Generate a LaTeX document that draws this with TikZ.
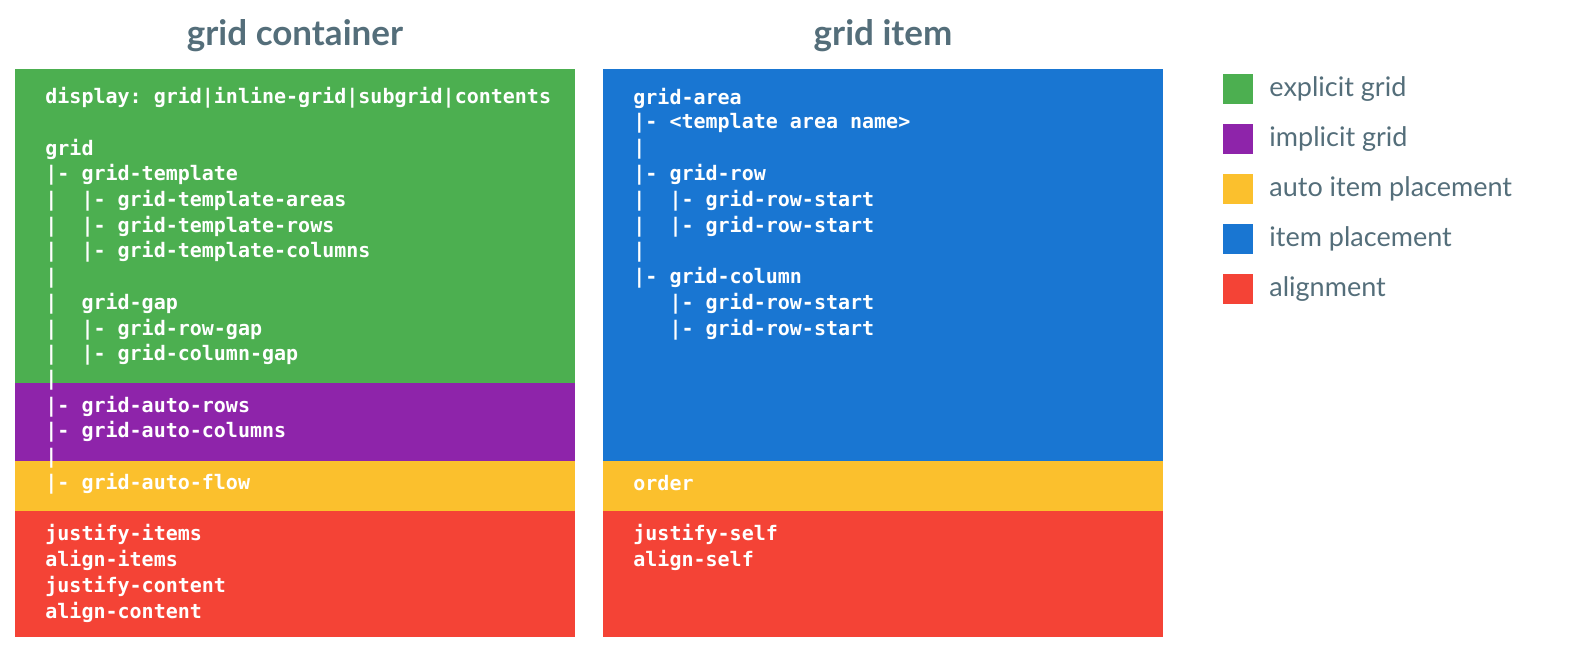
\documentclass[tikz,border=0pt]{standalone}
\usepackage{fontspec}
\setmainfont{Lato}
\setmonofont{DejaVu Sans Mono}
\definecolor{cgreen}{HTML}{4CAF50}
\definecolor{cpurple}{HTML}{8E24AA}
\definecolor{cyellow}{HTML}{FBC02D}
\definecolor{cblue}{HTML}{1976D2}
\definecolor{cred}{HTML}{F44336}
\definecolor{ctitle}{HTML}{546E7A}
\tikzset{
  band/.style={fill=#1, draw=none},
  code/.style={anchor=west, inner sep=0pt, text=white, font=\ttfamily\bfseries\fontsize{10}{12}\selectfont},
  ttl/.style={text=ctitle, font=\bfseries\fontsize{17.5}{20}\selectfont},
  sw/.style={fill=#1, draw=none, minimum size=15pt, inner sep=0pt, anchor=north west},
  lg/.style={anchor=west, text=ctitle, font=\fontsize{13.5}{16}\selectfont, inner sep=0pt},
}
\begin{document}
\begin{tikzpicture}[x=0.5pt,y=-0.5pt]
\useasboundingbox (0,0) rectangle (1578,657);
% left panel
\fill[band=cgreen] (15,69) rectangle (575,383);
\fill[band=cpurple] (15,383) rectangle (575,461);
\fill[band=cyellow] (15,461) rectangle (575,511);
\fill[band=cred] (15,511) rectangle (575,637);
% right panel
\fill[band=cblue] (603,69) rectangle (1163,461);
\fill[band=cyellow] (603,461) rectangle (1163,511);
\fill[band=cred] (603,511) rectangle (1163,637);
\node[ttl] (t1) at (295,36) {grid container};
\node[ttl] (t2) at (883,36) {grid item};
\foreach \i/\t in {
 0/{display: grid|inline-grid|subgrid|contents},
 2/{grid},
 3/{|- grid-template},
 4/{|~~|- grid-template-areas},
 5/{|~~|- grid-template-rows},
 6/{|~~|- grid-template-columns},
 7/{|},
 8/{|~~grid-gap},
 9/{|~~|- grid-row-gap},
 10/{|~~|- grid-column-gap},
 11/{|},
 12/{|- grid-auto-rows},
 13/{|- grid-auto-columns},
 14/{|},
 15/{|- grid-auto-flow},
 17/{justify-items},
 18/{align-items},
 19/{justify-content},
 20/{align-content}}
 \node[code] (L\i) at (45,98+25.7*\i) {\t};
\foreach \i/\t in {
 0/{grid-area},
 1/{|- <template area name>},
 2/{|},
 3/{|- grid-row},
 4/{|~~|- grid-row-start},
 5/{|~~|- grid-row-start},
 6/{|},
 7/{|- grid-column},
 8/{~~~|- grid-row-start},
 9/{~~~|- grid-row-start},
 15/{order},
 17/{justify-self},
 18/{align-self}}
 \node[code] (R\i) at (633,98+25.7*\i) {\t};
\foreach \i/\c/\t in {0/cgreen/explicit grid, 1/cpurple/implicit grid, 2/cyellow/auto item placement, 3/cblue/item placement, 4/cred/alignment}{
 \node[sw=\c] (s\i) at (1223,74+50*\i) {};
 \node[lg] (g\i) at (1269,89+50*\i) {\t};
}
\end{tikzpicture}
\end{document}
